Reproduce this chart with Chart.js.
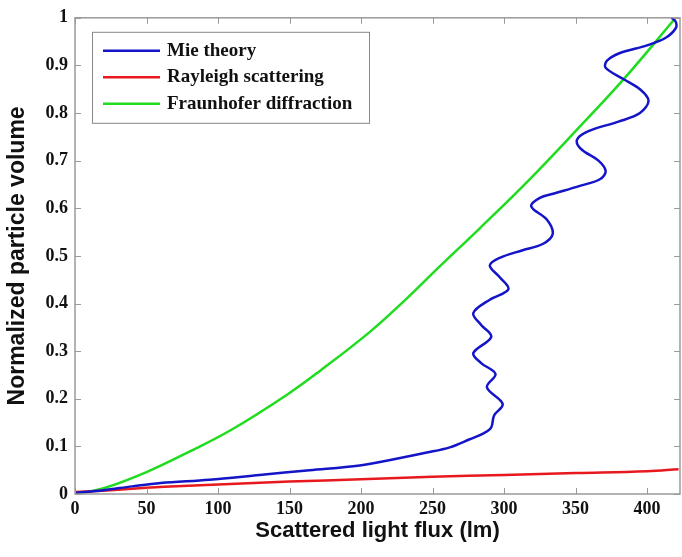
<!DOCTYPE html>
<html>
<head>
<meta charset="utf-8">
<script src="https://cdn.jsdelivr.net/npm/chart.js@4.4.1/dist/chart.umd.min.js"></script>
<style>
  html, body { margin: 0; padding: 0; background: #fff; }
  #wrap { width: 682px; height: 557px; }
</style>
</head>
<body>
<div id="wrap"><canvas id="lineChart" width="682" height="557"></canvas></div>
<script>
// values: [flux (lm), normalized volume]
var mieTheory = [
  [0, 0.002], [20, 0.008], [40, 0.016], [60, 0.023], [94, 0.03], [129, 0.04],
  [164, 0.05], [199, 0.06], [223, 0.073], [246, 0.087], [262, 0.098], [276, 0.115],
  [286, 0.128], [291, 0.14], [293, 0.165], [299, 0.189], [288, 0.224], [294, 0.252],
  [284, 0.275], [278.5, 0.296], [291, 0.33], [284, 0.355], [278.5, 0.38], [290, 0.408],
  [303, 0.43], [297, 0.455], [290, 0.48], [297, 0.496], [313, 0.512], [327, 0.525],
  [334, 0.546], [330, 0.576], [319, 0.604], [325, 0.622], [335, 0.631], [353, 0.647],
  [367, 0.661], [371, 0.678], [366, 0.7], [354, 0.724], [351, 0.744], [359, 0.762],
  [380, 0.782], [395, 0.8], [401, 0.826], [395, 0.85], [383, 0.872], [371, 0.895],
  [372, 0.91], [381, 0.926], [400, 0.942], [413, 0.958], [420, 0.978], [420, 0.992],
  [417, 1.0]
];
var rayleigh = [
  [0, 0.004], [25, 0.008], [50, 0.013], [75, 0.017], [100, 0.02], [150, 0.026],
  [200, 0.031], [250, 0.036], [300, 0.04], [350, 0.044], [400, 0.048], [422, 0.052]
];
var fraunhofer = [
  [0, 0], [20, 0.012], [50, 0.046], [80, 0.089], [110, 0.136], [148, 0.208],
  [171, 0.258], [206, 0.34], [230, 0.405], [255, 0.478], [283, 0.558], [316, 0.655],
  [350, 0.762], [383, 0.869], [420, 1.0]
];
var seriesNames = ['Mie theory', 'Rayleigh scattering', 'Fraunhofer diffraction'];
var seriesColors = ['#1414c8', '#e8191e', '#1fdc1f'];
var xTicks = [0, 50, 100, 150, 200, 250, 300, 350, 400];
var yTicks = [0, 0.1, 0.2, 0.3, 0.4, 0.5, 0.6, 0.7, 0.8, 0.9, 1];

function toPoints(arr) {
  return arr.map(function (p) { return { x: p[0], y: p[1] }; });
}

// box around the plot with inward ticks on all four sides, MATLAB style
var framePlugin = {
  id: 'frame',
  afterDatasetsDraw: function (chart) {
    var ctx = chart.ctx, a = chart.chartArea;
    var xs = chart.scales.x, ys = chart.scales.y;
    ctx.save();
    ctx.strokeStyle = '#9a9a9a';
    ctx.lineWidth = 1.5;
    ctx.strokeRect(a.left, a.top, a.right - a.left, a.bottom - a.top);
    ctx.lineWidth = 1;
    ctx.beginPath();
    xTicks.forEach(function (v) {
      var px = Math.round(xs.getPixelForValue(v)) + 0.5;
      ctx.moveTo(px, a.bottom); ctx.lineTo(px, a.bottom - 6);
      ctx.moveTo(px, a.top); ctx.lineTo(px, a.top + 6);
    });
    yTicks.forEach(function (v) {
      var py = Math.round(ys.getPixelForValue(v)) + 0.5;
      ctx.moveTo(a.left, py); ctx.lineTo(a.left + 6, py);
      ctx.moveTo(a.right, py); ctx.lineTo(a.right - 6, py);
    });
    ctx.stroke();
    ctx.restore();
  }
};

// legend inside the plot area, with a border
var boxLegend = {
  id: 'boxLegend',
  afterDraw: function (chart) {
    var ctx = chart.ctx, a = chart.chartArea;
    var bx = a.left + 17, by = a.top + 14, bw = 277, bh = 91;
    ctx.save();
    ctx.fillStyle = '#fff';
    ctx.fillRect(bx, by, bw, bh);
    ctx.strokeStyle = '#888';
    ctx.lineWidth = 1;
    ctx.strokeRect(bx + 0.5, by + 0.5, bw, bh);
    ctx.font = 'bold 19px "Liberation Serif", "Times New Roman", serif';
    ctx.textBaseline = 'middle';
    seriesNames.forEach(function (name, i) {
      var yy = by + 19 + i * 26.5;
      ctx.strokeStyle = seriesColors[i];
      ctx.lineWidth = 2.5;
      ctx.beginPath();
      ctx.moveTo(bx + 11, yy); ctx.lineTo(bx + 68, yy);
      ctx.stroke();
      ctx.fillStyle = '#111';
      ctx.fillText(name, bx + 75, yy);
    });
    ctx.restore();
  }
};

var ctx = document.getElementById('lineChart').getContext('2d');
var lineChart = new Chart(ctx, {
  type: 'scatter',
  data: {
    datasets: [mieTheory, rayleigh, fraunhofer].map(function (arr, i) {
      return {
        label: seriesNames[i],
        data: toPoints(arr),
        showLine: true,
        borderColor: seriesColors[i],
        borderWidth: 2.5,
        pointRadius: 0,
        tension: i === 0 ? 0.35 : 0.4,
        fill: false
      };
    })
  },
  options: {
    responsive: false,
    animation: false,
    layout: { padding: { top: 14, right: 2, left: 0, bottom: 0 } },
    scales: {
      x: {
        type: 'linear',
        min: 0,
        max: 423,
        afterFit: function (scale) { scale.height = 63; },
        grid: { display: false, drawTicks: false },
        border: { display: false },
        ticks: {
          stepSize: 50,
          includeBounds: false,
          padding: 5,
          color: '#111',
          font: { family: '"Liberation Serif", "Times New Roman", serif', size: 18, weight: 'bold' }
        },
        title: {
          display: true,
          text: 'Scattered light flux (lm)',
          color: '#111',
          padding: { top: 0, bottom: 13 },
          font: { family: '"Liberation Sans", Arial, sans-serif', size: 22, weight: 'bold' }
        }
      },
      y: {
        type: 'linear',
        min: 0,
        max: 1,
        afterFit: function (scale) { scale.width = 75; },
        grid: { display: false, drawTicks: false },
        border: { display: false },
        ticks: {
          stepSize: 0.1,
          padding: 7,
          color: '#111',
          font: { family: '"Liberation Serif", "Times New Roman", serif', size: 18, weight: 'bold' },
          callback: function (v) { return String(+v.toFixed(1)); }
        },
        title: {
          display: true,
          text: 'Normalized particle volume',
          color: '#111',
          padding: { top: 4, bottom: 0 },
          font: { family: '"Liberation Sans", Arial, sans-serif', size: 23, weight: 'bold' }
        }
      }
    },
    plugins: {
      legend: { display: false },
      tooltip: { enabled: false }
    }
  },
  plugins: [framePlugin, boxLegend]
});
</script>
</body>
</html>
